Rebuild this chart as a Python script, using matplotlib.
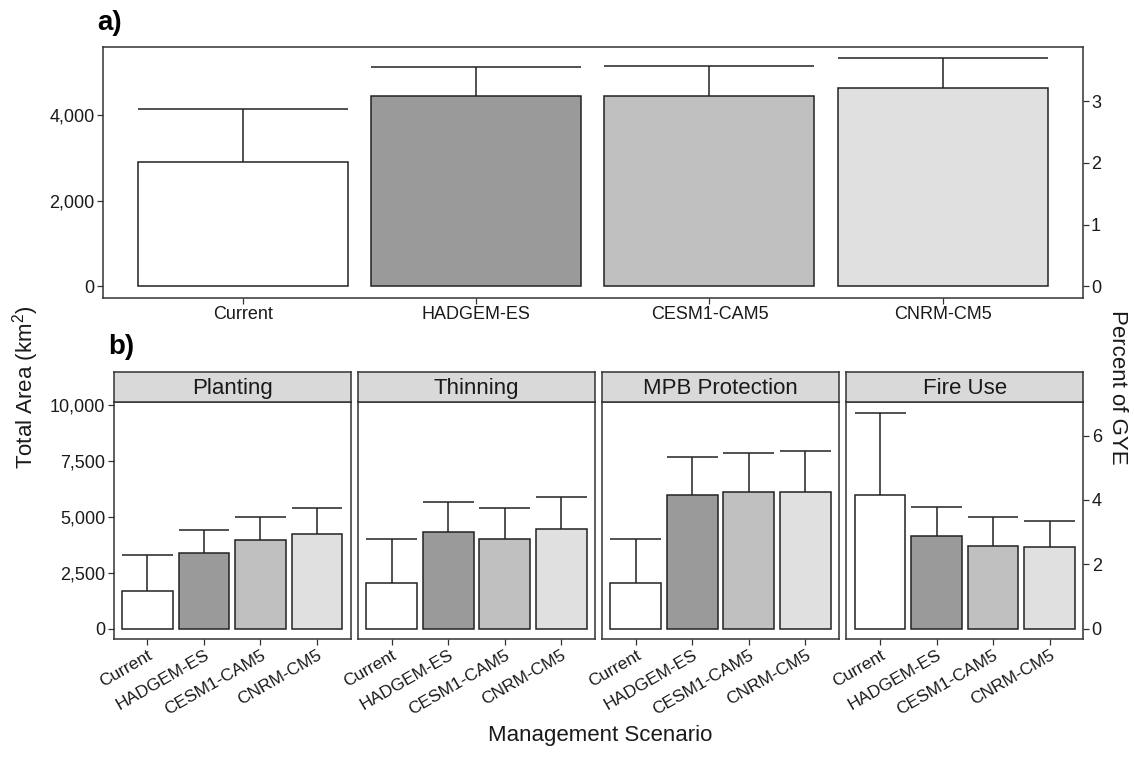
import matplotlib
matplotlib.use("Agg")
import matplotlib.pyplot as plt
import numpy as np

plt.rcParams['font.family'] = ['Liberation Sans', 'DejaVu Sans']
plt.rcParams['mathtext.fontset'] = 'custom'
plt.rcParams['mathtext.rm'] = 'Liberation Sans'
plt.rcParams['mathtext.it'] = 'Liberation Sans:italic'

# data (km^2)
scenarios = ['Current', 'HADGEM-ES', 'CESM1-CAM5', 'CNRM-CM5']
fills = ['#ffffff', '#9a9a9a', '#c0c0c0', '#e0e0e0']

total_mean = [2900, 4440, 4440, 4620]
total_upper = [4130, 5110, 5140, 5320]

treatments = ['Planting', 'Thinning', 'MPB Protection', 'Fire Use']
treat_mean = {
    'Planting': [1680, 3370, 3940, 4210],
    'Thinning': [2030, 4330, 3990, 4450],
    'MPB Protection': [2030, 5970, 6120, 6120],
    'Fire Use': [5970, 4160, 3700, 3660],
}
treat_upper = {
    'Planting': [3300, 4390, 5000, 5390],
    'Thinning': [3990, 5670, 5390, 5890],
    'MPB Protection': [3990, 7660, 7870, 7930],
    'Fire Use': [9670, 5450, 5000, 4820],
}

GYE_KM2 = 144000  # used for the percent axis
W, H = 1134, 774
dark = '#333333'
txt = '#1a1a1a'
tick_fs = 13
title_fs = 16


def to_pct(y):
    return y / GYE_KM2 * 100


def from_pct(p):
    return p * GYE_KM2 / 100


def style_frame(ax):
    for s in ax.spines.values():
        s.set_color(dark)
        s.set_linewidth(1.1)
    ax.tick_params(length=4, width=0.9, color=dark, labelcolor=txt, pad=2)


def draw_bars(ax, means, uppers):
    x = np.arange(1, len(means) + 1)
    ax.bar(x, means, width=0.9, color=fills, edgecolor='#222222', linewidth=1.1, zorder=2)
    ax.vlines(x, means, uppers, color='#222222', linewidth=1.1, zorder=1)
    ax.hlines(uppers, x - 0.45, x + 0.45, color='#222222', linewidth=1.1, zorder=1)
    ax.set_xlim(0.4, len(means) + 0.6)
    top = max(uppers)
    ax.set_ylim(-0.05 * top, 1.05 * top)
    ax.set_xticks(x)


def fmt(v):
    return f'{int(v):,}'


fig = plt.figure(figsize=(W / 100, H / 100), dpi=100)

# ---- panel a
axa = fig.add_axes([102.9 / W, 1 - 297.7 / H, (1082.7 - 102.9) / W, (297.7 - 47) / H])
draw_bars(axa, total_mean, total_upper)
axa.set_xticklabels(scenarios, fontsize=tick_fs)
axa.set_yticks([0, 2000, 4000])
axa.set_yticklabels([fmt(v) for v in [0, 2000, 4000]], fontsize=tick_fs)
style_frame(axa)
seca = axa.secondary_yaxis('right', functions=(to_pct, from_pct))
seca.set_yticks([0, 1, 2, 3])
seca.tick_params(length=4, width=0.9, color=dark, labelcolor=txt, labelsize=tick_fs, pad=2)
seca.spines['right'].set_visible(False)
fig.text(97 / W, 1 - 23 / H, 'a)', fontsize=20, fontweight='bold', va='center', ha='left')

# ---- panel b
left0 = 113.6
pw = 237.2
gap = 7.0
ptop = 401.7
pbot = 639.3
strip_top = 372.3
ymax_b = max(max(v) for v in treat_upper.values())
for i, t in enumerate(treatments):
    lx = left0 + i * (pw + gap)
    ax = fig.add_axes([lx / W, 1 - pbot / H, pw / W, (pbot - ptop) / H])
    draw_bars(ax, treat_mean[t], treat_upper[t])
    ax.set_ylim(-0.05 * ymax_b, 1.05 * ymax_b)
    ax.set_xticklabels(scenarios, fontsize=12.5, rotation=30, ha='right',
                       va='top', rotation_mode='anchor')
    yt = [0, 2500, 5000, 7500, 10000]
    ax.set_yticks(yt)
    style_frame(ax)
    if i == 0:
        ax.set_yticklabels([fmt(v) for v in yt], fontsize=tick_fs)
    else:
        ax.tick_params(axis='y', left=False, labelleft=False)
    if i == len(treatments) - 1:
        sec = ax.secondary_yaxis('right', functions=(to_pct, from_pct))
        sec.set_yticks([0, 2, 4, 6])
        sec.tick_params(length=4, width=0.9, color=dark, labelcolor=txt, labelsize=tick_fs, pad=2)
        sec.spines['right'].set_visible(False)
    # strip
    sax = fig.add_axes([lx / W, 1 - ptop / H, pw / W, (ptop - strip_top) / H])
    sax.set_facecolor('#d9d9d9')
    sax.set_xticks([])
    sax.set_yticks([])
    for s in sax.spines.values():
        s.set_color(dark)
        s.set_linewidth(1.1)
    sax.text(0.5, 0.45, t, ha='center', va='center', fontsize=title_fs, color=txt,
             transform=sax.transAxes)

fig.text(108 / W, 1 - 347 / H, 'b)', fontsize=20, fontweight='bold', va='center', ha='left')

fig.text(26 / W, 0.5, 'Total Area (km$^2$)', rotation=90, fontsize=title_fs,
         ha='center', va='center', color=txt)
fig.text(1117 / W, 0.5, 'Percent of GYE', rotation=270, fontsize=title_fs,
         ha='center', va='center', color=txt)
fig.text(600 / W, 1 - 735 / H, 'Management Scenario', fontsize=title_fs,
         ha='center', va='center', color=txt)

fig.savefig('out.png', dpi=100)
